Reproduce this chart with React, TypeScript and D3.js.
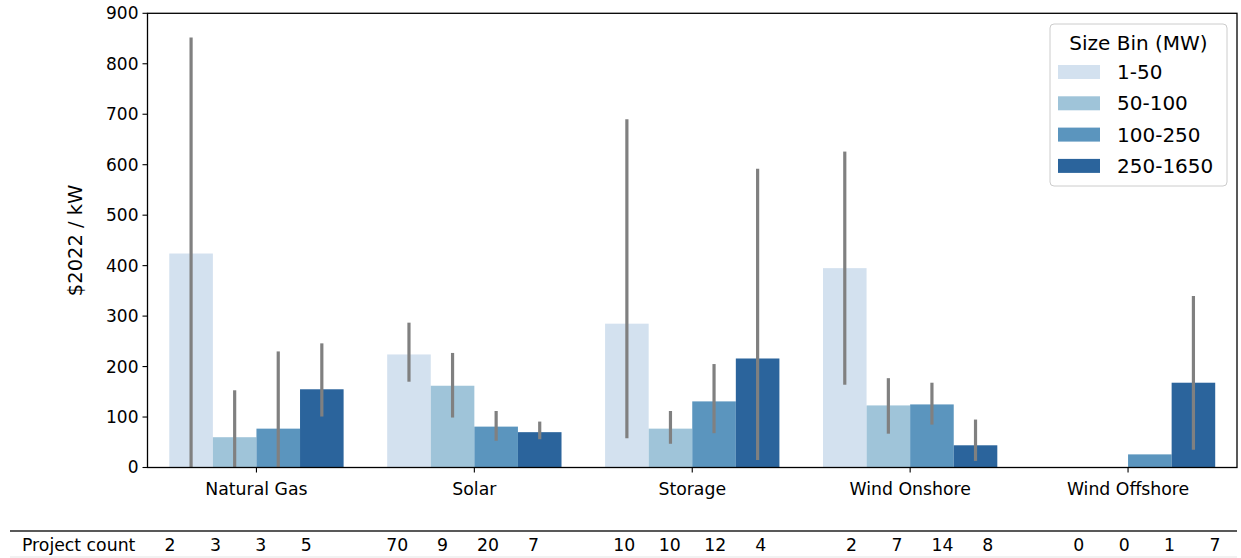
import * as d3 from "d3";

const categories = ["Natural Gas", "Solar", "Storage", "Wind Onshore", "Wind Offshore"];
const bins = ["1-50", "50-100", "100-250", "250-1650"];
const binColors = ["#d3e1ef", "#9fc4d9", "#5b95be", "#2b649c"];

// mean cost per bin, for each category (null = no bar)
const meanValues: (number | null)[][] = [
  [424, 60, 77, 155],
  [224, 162, 81, 70],
  [285, 77, 131, 216],
  [395, 123, 125, 44],
  [null, null, 26, 168],
];
// error bar ranges [low, high]
const errLow: (number | null)[][] = [
  [0, 0, 0, 101],
  [170, 99, 53, 56],
  [58, 47, 68, 15],
  [164, 67, 85, 13],
  [null, null, null, 35],
];
const errHigh: (number | null)[][] = [
  [852, 153, 230, 246],
  [287, 227, 112, 91],
  [690, 112, 205, 592],
  [626, 177, 168, 95],
  [null, null, null, 340],
];
const projectCounts = [
  [2, 3, 3, 5],
  [70, 9, 20, 7],
  [10, 10, 12, 4],
  [2, 7, 14, 8],
  [0, 0, 1, 7],
];
const yTicks = [0, 100, 200, 300, 400, 500, 600, 700, 800, 900];

const W = 1241;
const H = 558;
const margin = { left: 147.5, right: 1237, top: 13.3, bottom: 467.5 };
const font = "DejaVu Sans, sans-serif";

export default function App() {
  const xc = d3.scaleBand<string>().domain(categories).range([margin.left, margin.right]);
  const xb = d3.scaleBand<string>().domain(bins).range([0, xc.bandwidth() * 0.8]);
  const y = d3.scaleLinear().domain([0, 900]).range([margin.bottom, margin.top]);

  // table columns: 4 counts per category + a blank separator
  const tableCells: { label: string; idx: number }[] = [];
  projectCounts.forEach((row, ci) => {
    row.forEach((v, bi) => tableCells.push({ label: String(v), idx: ci * 5 + bi }));
  });
  const tx = d3.scaleLinear().domain([0, 23]).range([170, 1215]);

  return (
    <svg width={W} height={H} style={{ position: "absolute", left: 0, top: 0, fontFamily: font }}>
      <rect width={W} height={H} fill="white" />
      {/* bars */}
      {categories.map((c, ci) => {
        const xs = xc(c)! + (xc.bandwidth() - xb.range()[1]) / 2;
        return bins.map((b, bi) => {
          const v = meanValues[ci][bi];
          if (v === null) return null;
          return (
            <rect key={c + b} x={xs + xb(b)!} y={y(v)} width={xb.bandwidth()} height={y(0) - y(v)} fill={binColors[bi]} />
          );
        });
      })}
      {/* error bars */}
      {categories.map((c, ci) => {
        const xs = xc(c)! + (xc.bandwidth() - xb.range()[1]) / 2;
        return bins.map((b, bi) => {
          const lo = errLow[ci][bi];
          const hi = errHigh[ci][bi];
          if (lo === null || hi === null) return null;
          const cx = xs + xb(b)! + xb.bandwidth() / 2;
          return <line key={"e" + c + b} x1={cx} x2={cx} y1={y(lo)} y2={y(hi)} stroke="#808080" strokeWidth={3.2} />;
        });
      })}
      {/* frame */}
      <rect x={margin.left} y={margin.top} width={margin.right - margin.left} height={margin.bottom - margin.top} fill="none" stroke="black" strokeWidth={1.3} />
      {/* y axis */}
      {yTicks.map((t) => (
        <g key={t}>
          <line x1={margin.left - 5} x2={margin.left} y1={y(t)} y2={y(t)} stroke="black" strokeWidth={1.1} />
          <text x={margin.left - 9} y={y(t)} dy="0.35em" textAnchor="end" fontSize={17}>
            {t}
          </text>
        </g>
      ))}
      <text transform={`translate(82,${(margin.top + margin.bottom) / 2}) rotate(-90)`} textAnchor="middle" fontSize={19.5}>
        $2022 / kW
      </text>
      {/* x axis */}
      {categories.map((c) => {
        const cx = xc(c)! + xc.bandwidth() / 2;
        return (
          <g key={"x" + c}>
            <line x1={cx} x2={cx} y1={margin.bottom} y2={margin.bottom + 5} stroke="black" strokeWidth={1.1} />
            <text x={cx} y={495} textAnchor="middle" fontSize={17.3}>
              {c}
            </text>
          </g>
        );
      })}
      {/* legend */}
      <g>
        <rect x={1050} y={24} width={177} height={162} rx={4} fill="white" fillOpacity={0.85} stroke="#cccccc" strokeWidth={1} />
        <text x={1138.5} y={43} dy="0.35em" textAnchor="middle" fontSize={20}>
          Size Bin (MW)
        </text>
        {bins.map((b, i) => (
          <g key={"l" + b}>
            <rect x={1058} y={72 + i * 31.3 - 7} width={42} height={14} fill={binColors[i]} />
            <text x={1117} y={72 + i * 31.3} dy="0.35em" fontSize={20}>
              {b}
            </text>
          </g>
        ))}
      </g>
      {/* table */}
      <line x1={10} x2={1237} y1={531} y2={531} stroke="#222" strokeWidth={1.5} />
      <line x1={10} x2={1237} y1={557} y2={557} stroke="#e6e6e6" strokeWidth={1.2} />
      <text x={22} y={550.5} fontSize={17.3}>
        Project count
      </text>
      {tableCells.map((cell) => (
        <text key={"t" + cell.idx} x={tx(cell.idx)} y={550.5} textAnchor="middle" fontSize={17.3}>
          {cell.label}
        </text>
      ))}
    </svg>
  );
}
